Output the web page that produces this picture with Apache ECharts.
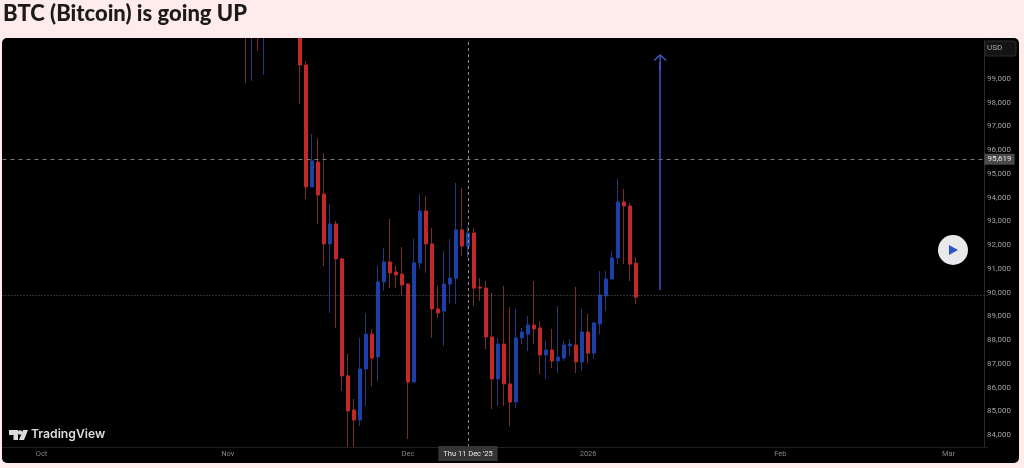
<!DOCTYPE html>
<html>
<head>
<meta charset="utf-8">
<style>
html,body{margin:0;padding:0;background:#fdeceb;}
#main{width:1024px;height:468px;}
</style>
<script src="https://cdn.jsdelivr.net/npm/echarts@6/dist/echarts.min.js"></script>
</head>
<body>
<div id="main"></div>
<script>
// one candle per day, first one is 4 Nov 2025 (the ones up to 13 Nov open above the visible range)
var firstCandle = '2025-11-04';
var opens = [101600,101200,101700,101300,102000,102100,104000,105500,103000,101700,
  99590,94450,95500,94150,92050,92890,91420,86490,85050,84630,86780,88250,87290,90450,91290,90870,90780,
  90360,86230,91250,93440,92050,89310,89220,90360,90610,92640,91960,92510,90230,90190,88130,86360,87830,86150,85390,88090,88250,88630,88510,87370,87580,87120,87240,87750,87790,87080,88340,
  87450,88680,89860,90570,91460,93820,93650,91240];
var closes = [101200,101700,101300,102000,102100,104000,105500,103000,101700,99590,
  94450,95550,94110,92050,92890,91420,86490,85010,84630,86780,88250,87240,90450,91290,90830,90740,90320,
  86230,91250,93440,92050,89310,89140,90360,90610,92640,91960,92510,90190,90190,88130,86360,87830,86150,85390,88090,88340,88630,88470,87370,87580,87120,87280,87790,87830,87080,88340,87450,
  88720,89900,90570,91460,93820,93650,91200,89810];
var lows = [98830,98920,100180,99170,101500,101400,103400,102500,100900,97950,
  93940,94450,92890,91120,89140,88510,85850,83500,83500,84380,85220,86060,86270,90070,90190,90190,89860,
  83830,86230,90990,90830,88090,88930,87750,89560,89520,91540,91500,89430,89650,87620,85090,85220,85220,84380,85140,87830,87540,87830,86570,86360,86820,86610,87120,87330,86610,86700,87030,
  87200,88250,89220,90570,91200,91200,90490,89520];
var highs = [102000,102300,102400,102500,102600,104500,106000,106000,103500,102200,
  99760,96680,96510,95880,93730,93020,91460,87410,85520,88090,89140,88470,91120,91880,93100,91120,91920,
  90400,92260,94150,94070,92720,90280,91750,92260,94620,94410,92810,92720,90610,90490,89980,88090,90280,89390,89310,88510,89010,90490,88800,87960,88470,89430,87960,88040,90240,89310,89100,
  88760,90910,90910,91750,94790,94370,93780,91500];

var monthLabels = {'2025-10-01':'Oct','2025-11-01':'Nov','2025-12-01':'Dec','2025-12-31':'2026','2026-02-01':'Feb','2026-03-01':'Mar'};
var priceTicks = [84000,85000,86000,87000,88000,89000,90000,91000,92000,93000,94000,95000,96000,97000,98000,99000];
var lastPrice = 95619;
var lowerLevel = 89880;
var cursorDate = '2025-12-11';
var cursorLabel = "Thu 11 Dec '25";
var arrowDate = '2026-01-12';
var arrowFrom = 90100;
var arrowTo = 99720;

var blue = '#1c3fa8', red = '#c02829';
var blueWick = '#24387f', redWick = '#7a2e28';
var axisFont = 'Roboto';
var pageBg = '#fdeceb';

// daily categories, 25 Sep 2025 to 7 Mar 2026
var days = [];
for (var t = Date.UTC(2025,8,25); t <= Date.UTC(2026,2,7); t += 86400000) {
  days.push(new Date(t).toISOString().slice(0,10));
}
var offset = days.indexOf(firstCandle);

var wickData = days.map(function (d, i) {
  var k = i - offset;
  if (k < 0 || k >= opens.length) return ['-','-','-','-'];
  return [opens[k], closes[k], lows[k], highs[k]];
});
var bodyData = days.map(function (d, i) {
  var k = i - offset;
  if (k < 0 || k >= opens.length) return ['-','-','-','-'];
  return [opens[k], closes[k], Math.min(opens[k],closes[k]), Math.max(opens[k],closes[k])];
});

var myChart = echarts.init(document.getElementById('main'), null, {renderer:'canvas'});

var option = {
  animation: false,
  backgroundColor: pageBg,
  title: {
    text: 'BTC (Bitcoin) is going UP',
    left: 3, top: 3, padding: 0, z: 8,
    textStyle: {fontFamily:'Lato', fontWeight:900, fontSize:22, color:'#1c1a1a'}
  },
  grid: {left:2.5, top:40, width:985, height:407, show:false},
  xAxis: {
    type: 'category',
    data: days,
    boundaryGap: true,
    axisLine: {show:true, lineStyle:{color:'#1f1f1f', width:1}},
    axisTick: {show:false},
    splitLine: {show:false},
    axisLabel: {
      interval: function (i, v) { return !!monthLabels[v]; },
      formatter: function (v) { return monthLabels[v] || ''; },
      color: '#858585', fontFamily: axisFont, fontSize: 7.5, margin: 3
    }
  },
  yAxis: {
    type: 'value',
    position: 'right',
    offset: -3.5,
    min: 83493,
    max: 100643,
    scale: true,
    axisLine: {show:true, onZero:false, lineStyle:{color:'#2a2a2a', width:1}},
    axisTick: {show:false},
    splitLine: {show:false},
    axisLabel: {
      customValues: priceTicks,
      formatter: function (v) { return echarts.format.addCommas(v); },
      color: '#a0a0a0', fontFamily: axisFont, fontSize: 8, margin: 3
    }
  },
  series: [
    {
      name: 'wick',
      type: 'candlestick',
      data: wickData,
      barWidth: 1,
      z: 2,
      itemStyle: {color:blueWick, color0:redWick, borderColor:blueWick, borderColor0:redWick, borderWidth:1}
    },
    {
      name: 'BTC',
      type: 'candlestick',
      data: bodyData,
      barWidth: 4,
      z: 3,
      itemStyle: {color:blue, color0:red, borderColor:blue, borderColor0:red, borderWidth:1},
      markLine: {
        silent: true,
        symbol: ['none','none'],
        precision: 0,
        data: [
          {
            yAxis: lastPrice,
            lineStyle: {color:'#7a7a7a', type:[4,4], width:1},
            label: {
              show:true, position:'end', distance:-3,
              formatter: echarts.format.addCommas(lastPrice),
              backgroundColor:'#4a4a4a', color:'#e6e6e6', fontFamily:axisFont, fontSize:8,
              padding:[2,3,1,3]
            }
          },
          {
            yAxis: lowerLevel,
            lineStyle: {color:'#5c5c5c', type:[1,2], width:1},
            label: {show:false}
          },
          {
            xAxis: cursorDate,
            lineStyle: {color:'#8c8c8c', type:[3,3], width:1},
            label: {
              show:true, position:'start', distance:-1,
              formatter: cursorLabel,
              backgroundColor:'#353535', color:'#e6e6e6', fontFamily:axisFont, fontSize:7.5,
              padding:[4,5,3,5]
            }
          },
          [
            {
              coord:[arrowDate, arrowFrom], symbol:'none',
              lineStyle:{color:'#3d55c8', type:'solid', width:1.5}, label:{show:false}
            },
            {
              // chevron plus a piece of stem, so the tip sits above the line's end
              coord:[arrowDate, arrowTo],
              symbol:'path://M0 6 L6 0 L12 6 L11 7 L6.6 2.6 L6.6 16 L5.4 16 L5.4 2.6 L1 7 Z',
              symbolSize:[13,16],
              symbolRotate: 0
            }
          ]
        ]
      }
    }
  ],
  graphic: [
    {type:'rect', z:-1, shape:{x:2,y:38,width:1017,height:425,r:5}, style:{fill:'#000'}},
    // hides the candles that run above the pane
    {type:'rect', z:6, shape:{x:0,y:0,width:1024,height:38}, style:{fill:pageBg}},
    // USD box
    {type:'rect', z:5, shape:{x:985,y:41,width:31,height:15,r:2}, style:{fill:'#141414',stroke:'#2c2c2c',lineWidth:1}},
    {type:'text', z:6, x:987, y:44, style:{text:'USD',fill:'#a6a6a6',font:'8px Roboto'}},
    // play button
    {type:'circle', z:5, shape:{cx:953,cy:250,r:15}, style:{fill:'#e9e9ec'}},
    {type:'polygon', z:6, shape:{points:[[949,245],[958,250],[949,255]]}, style:{fill:'#2a55c4'}},
    // TradingView mark
    {type:'polygon', z:5, shape:{points:[[9,430],[18,430],[18,440],[13.5,440],[13.5,435],[9,435]]}, style:{fill:'#dcdcdc'}},
    {type:'circle', z:5, shape:{cx:20,cy:432.5,r:2.2}, style:{fill:'#dcdcdc'}},
    {type:'polygon', z:5, shape:{points:[[23,430],[28,430],[24,440],[19,440]]}, style:{fill:'#dcdcdc'}},
    {type:'text', z:5, x:31, y:428, style:{text:'TradingView',fill:'#dcdcdc',font:'600 12.2px Inter'}}
  ]
};
myChart.setOption(option);
</script>
</body>
</html>
